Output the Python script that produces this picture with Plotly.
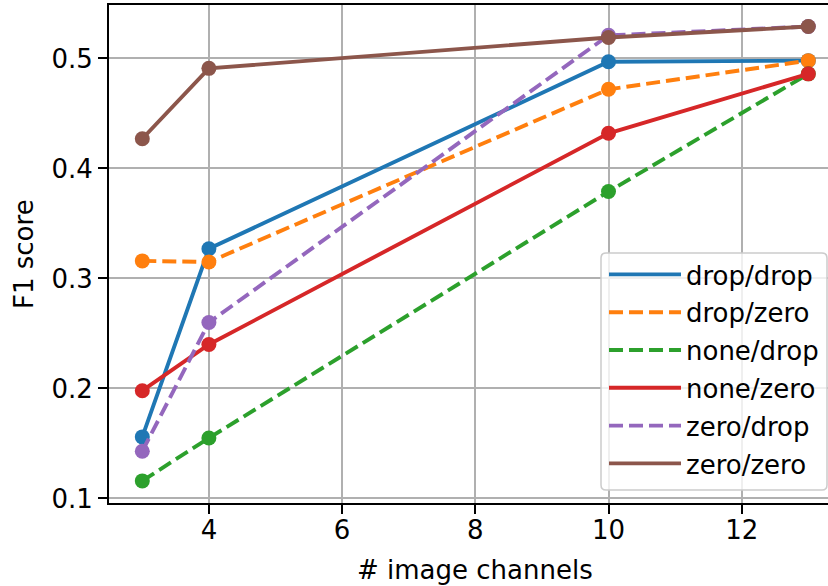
import plotly.graph_objects as go

x_channels = [3, 4, 10, 13]
series_names = ["drop/drop", "drop/zero", "none/drop", "none/zero", "zero/drop", "zero/zero"]
drop_drop = [0.156, 0.327, 0.497, 0.498]
drop_zero = [0.316, 0.315, 0.472, 0.498]
none_drop = [0.116, 0.155, 0.379, 0.486]
none_zero = [0.198, 0.240, 0.432, 0.486]
zero_drop = [0.143, 0.260, 0.521, 0.529]
zero_zero = [0.427, 0.491, 0.519, 0.529]
values = [drop_drop, drop_zero, none_drop, none_zero, zero_drop, zero_zero]
colors = ["#1f77b4", "#ff7f0e", "#2ca02c", "#d62728", "#9467bd", "#8c564b"]
dashes = ["solid", "14px,6px", "14px,6px", "solid", "14px,6px", "solid"]
x_ticks = [4, 6, 8, 10, 12]
y_ticks = [0.1, 0.2, 0.3, 0.4, 0.5]

FONT = "DejaVu Sans"
FS = 26
fig = go.Figure()
for i, (name, ys) in enumerate(zip(series_names, values)):
    fig.add_trace(go.Scatter(
        x=x_channels, y=ys, mode="lines", name=name,
        line=dict(color=colors[i], width=3.9, dash=dashes[i]),
        legendgroup=name, showlegend=True))
    fig.add_trace(go.Scatter(
        x=x_channels, y=ys, mode="markers", name=name,
        marker=dict(color=colors[i], size=15, line=dict(width=0)),
        legendgroup=name, showlegend=False))

W, H = 828, 586
L, R, T, B = 109, 0, 5, 83
px_per_x = 66.6
x_max = 2.5 + (W - L - R) / px_per_x
PW, PH = W - L - R, H - T - B


def px_x(p):
    return (p - L) / PW


def px_y(p):
    return (H - B - p) / PH


# legend frame (rounded rectangle) in paper coords
bx0, bx1, by0, by1 = px_x(601), px_x(827), px_y(490), px_y(253)
rx, ry = 5 / PW, 5 / PH
frame_path = (
    f"M {bx0+rx},{by1} L {bx1-rx},{by1} Q {bx1},{by1} {bx1},{by1-ry} "
    f"L {bx1},{by0+ry} Q {bx1},{by0} {bx1-rx},{by0} "
    f"L {bx0+rx},{by0} Q {bx0},{by0} {bx0},{by0+ry} "
    f"L {bx0},{by1-ry} Q {bx0},{by1} {bx0+rx},{by1} Z"
)

fig.update_layout(
    width=W, height=H,
    margin=dict(l=L, r=R, t=T, b=B, pad=0, autoexpand=False),
    paper_bgcolor="white", plot_bgcolor="white",
    font=dict(family=FONT, size=FS, color="black"),
    showlegend=True,
    legend=dict(
        x=px_x(604), y=px_y(251),
        xanchor="left", yanchor="top",
        bgcolor="rgba(0,0,0,0)", borderwidth=0,
        font=dict(family=FONT, size=FS, color="black"),
        tracegroupgap=1, traceorder="grouped", itemwidth=72,
    ),
    shapes=[dict(type="path", path=frame_path, xref="paper", yref="paper",
                 fillcolor="rgba(255,255,255,0.8)",
                 line=dict(color="#cccccc", width=1.5), layer="above")],
    xaxis=dict(
        range=[2.5, x_max], tickvals=x_ticks, ticktext=[str(v) for v in x_ticks],
        showgrid=True, gridcolor="#b0b0b0", gridwidth=2,
        showline=True, linecolor="black", linewidth=2, mirror=True,
        ticks="outside", ticklen=9, tickwidth=2, tickcolor="black",
        tickfont=dict(family=FONT, size=FS, color="black"),
        ticklabelstandoff=-6,
        zeroline=False, automargin=False,
    ),
    yaxis=dict(
        range=[0.0959, 0.5486], tickvals=y_ticks, ticktext=[str(v) for v in y_ticks],
        showgrid=True, gridcolor="#b0b0b0", gridwidth=2,
        showline=True, linecolor="black", linewidth=2, mirror=False,
        ticks="outside", ticklen=9, tickwidth=2, tickcolor="black",
        tickfont=dict(family=FONT, size=FS, color="black"),
        zeroline=False, automargin=False,
    ),
    annotations=[
        dict(text="# image channels", xref="paper", yref="paper",
             x=px_x(475), y=px_y(570),
             xanchor="center", yanchor="middle", showarrow=False,
             font=dict(family=FONT, size=FS, color="black")),
        dict(text="F1 score", xref="paper", yref="paper",
             x=px_x(24), y=0.5, textangle=-90,
             xanchor="center", yanchor="middle", showarrow=False,
             font=dict(family=FONT, size=FS, color="black")),
    ],
)

fig.write_html("out.html", config={"displayModeBar": False},
               post_script="document.body.style.margin='0';")
